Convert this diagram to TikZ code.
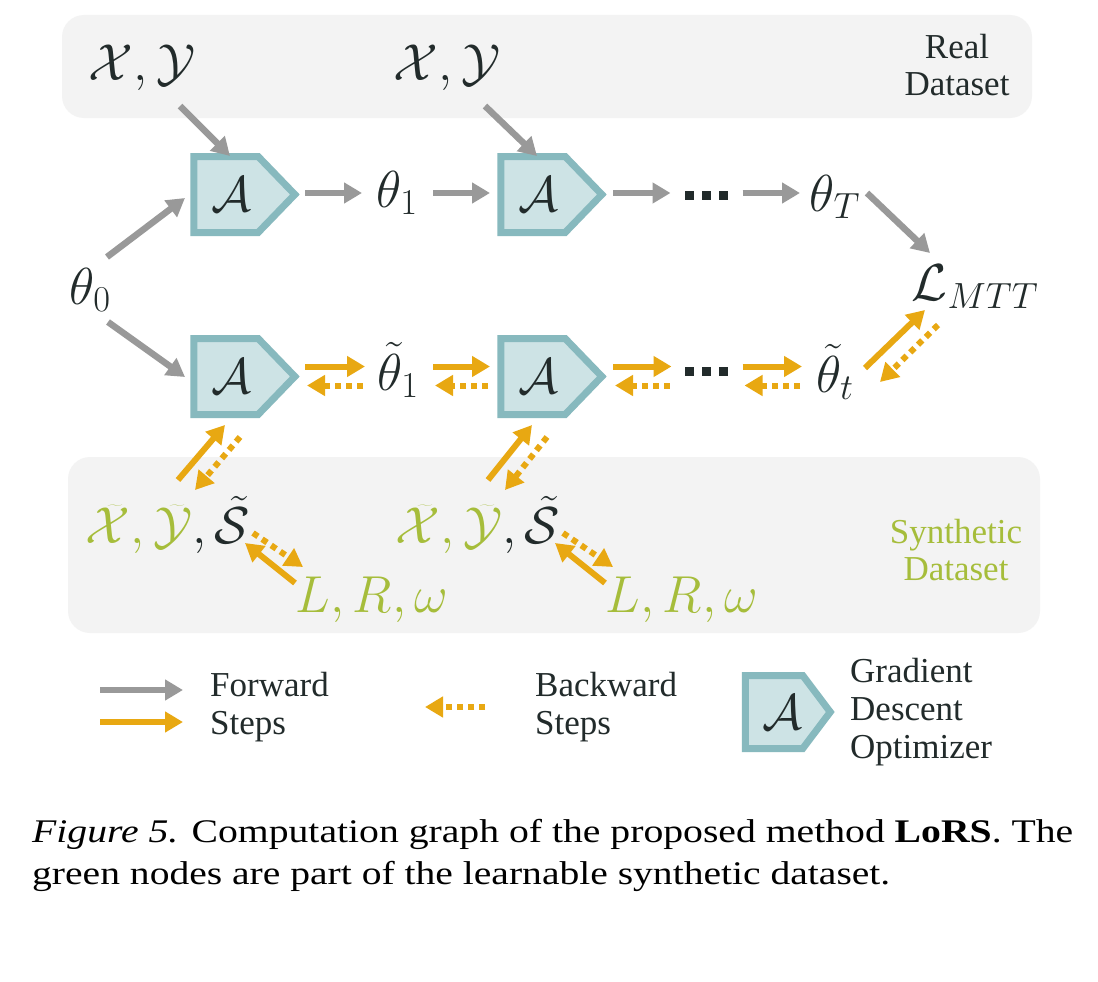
\RequirePackage{fix-cm}
\documentclass[tikz,border=0pt]{standalone}
\usepackage[no-math]{fontspec}
\usepackage{graphicx}
\setmainfont{Liberation Serif}
\usetikzlibrary{arrows.meta,shapes.symbols,calc}
\definecolor{ink}{HTML}{222B2B}
\definecolor{fwdgray}{HTML}{999999}
\definecolor{gold}{HTML}{E8A812}
\definecolor{leaf}{HTML}{A6BD3B}
\definecolor{optline}{HTML}{87B9BE}
\definecolor{optfill}{HTML}{CDE3E5}
\definecolor{panel}{HTML}{F3F3F3}
\tikzset{
  opt/.style={shape=signal,signal to=east,signal pointer angle=92,draw=optline,fill=optfill,
    line width=7pt,minimum width=101pt,minimum height=76pt,inner sep=0pt,text=ink,
    font=\fontsize{50}{50}\selectfont},
  var/.style={text=ink,inner sep=0pt,font=\fontsize{52}{52}\selectfont},
  dotrow/.style={text=ink,inner sep=0pt},
  lbl/.style={align=center,inner sep=0pt,font=\fontsize{35}{37}\selectfont},
  lgd/.style={text=ink,align=left,inner sep=0pt,anchor=west,font=\fontsize{35}{38}\selectfont},
  captext/.style={text=black,inner sep=0pt,anchor=base west,font=\fontsize{33}{40}\selectfont},
  fwd/.style={->,draw=fwdgray,line width=6.5pt},
  ofwd/.style={->,draw=gold,line width=6pt},
  obwd/.style={->,draw=gold,line width=6pt,dash pattern=on 6pt off 5pt}
}
\begin{document}
\begin{tikzpicture}[x=1pt,y=-1pt,>={Triangle[length=18pt,width=20pt]}]
\useasboundingbox (0,0) rectangle (1098,982);
\fill[white] (0,0) rectangle (1098,982);
\fill[panel,rounded corners=22pt] (62,15) rectangle (1032,118);
\fill[panel,rounded corners=22pt] (68,457) rectangle (1040,633);
\node[lbl,text=ink] (real) at (957,65) {Real\\Dataset};
\node[lbl,text=leaf] (synth) at (956,550) {Synthetic\\Dataset};
\coordinate (row1) at (0,193);
\coordinate (row2) at (0,376.5);
\node[var] (xy1) at (142,68) {$\mathcal{X},\mathcal{Y}$};
\node[var] (xy2) at (447,68) {$\mathcal{X},\mathcal{Y}$};
\node[opt] (a1) at (226,194.5) {\hspace{10pt}$\mathcal{A}$};
\node[opt] (a2) at (533,194.5) {\hspace{10pt}$\mathcal{A}$};
\node[opt] (a3) at (226,376.5) {\hspace{10pt}$\mathcal{A}$};
\node[opt] (a4) at (533,376.5) {\hspace{10pt}$\mathcal{A}$};
\node[var] (t0) at (90,290) {$\theta_0$};
\node[var] (t1) at (397,193) {$\theta_1$};
\node[dotrow] (d1) at (706.5,195) {\rule{9pt}{9pt}\hspace{8pt}\rule{9pt}{9pt}\hspace{8pt}\rule{9pt}{9pt}};
\node[var] (tT) at (835,197) {$\theta_T$};
\node[var] (loss) at (975,287) {$\mathcal{L}_{MTT}$};
\node[var] (tt1) at (398,370) {$\tilde{\theta}_1$};
\node[dotrow] (d2) at (706.5,371) {\rule{9pt}{9pt}\hspace{8pt}\rule{9pt}{9pt}\hspace{8pt}\rule{9pt}{9pt}};
\node[var] (ttt) at (835,372) {$\tilde{\theta}_t$};
\node[var] (syn1) at (168,525) {${\color{leaf}\widetilde{\mathcal{X}}}\mathpunct{\color{leaf},}{\color{leaf}\widetilde{\mathcal{Y}}},\tilde{\mathcal{S}}$};
\node[var] (syn2) at (478,525) {${\color{leaf}\widetilde{\mathcal{X}}}\mathpunct{\color{leaf},}{\color{leaf}\widetilde{\mathcal{Y}}},\tilde{\mathcal{S}}$};
\node[var,text=leaf] (lrw1) at (372,600) {$L,R,\omega$};
\node[var,text=leaf] (lrw2) at (682,600) {$L,R,\omega$};
\foreach \x/\a in {xy1/a1,xy2/a2}
  \draw[fwd] ($(\x)+(38,38)$) -- ($(\a)+(4,-38.5)$);
\draw[fwd] ($(t0)+(17,-33)$) -- ($(a1)+(-41,3.5)$);
\draw[fwd] ($(t0)+(18,32)$) -- ($(a3)+(-41,0.5)$);
\foreach \u/\v/\s/\e in {a1/t1/79/35,t1/a2/36/43,a2/d1/80/36,d1/tT/36/35}
  \draw[fwd] ($(\u |- row1)+(\s,0)$) -- ($(\v |- row1)+(-\e,0)$);
\foreach \u/\v/\s/\e in {a3/tt1/79/33,tt1/a4/35/43,a4/d2/80/35,d2/ttt/36/33}{
  \draw[ofwd] ($(\u |- row2)+(\s,-10)$) -- ($(\v |- row2)+(-\e,-10)$);
  \draw[obwd] ($(\v |- row2)+(-\e-2,9)$) -- ($(\u |- row2)+(\s+2,9)$);
}
\draw[fwd] ($(tT)+(32,-4)$) -- ($(loss)+(-45,-34)$);
\draw[ofwd] ($(ttt)+(30,-4)$) -- ($(loss)+(-50,23)$);
\draw[obwd] ($(loss)+(-37,38)$) -- ($(ttt)+(45,10)$);
\foreach \s/\a/\l in {syn1/a3/lrw1,syn2/a4/lrw2}{
  \draw[ofwd] ($(\s)+(10,-45)$) -- ($(\a)+(-1,48.5)$);
  \draw[obwd] ($(\a)+(14,60.5)$) -- ($(\s)+(27,-35)$);
  \draw[ofwd] ($(\l)+(-77,-17)$) -- ($(\s)+(77,18)$);
  \draw[obwd] ($(\s)+(85,8)$) -- ($(\l)+(-69,-33)$);
}
\coordinate (lgA) at (100,690);
\coordinate (lgB) at (183,690);
\coordinate (lgC) at (100,722);
\coordinate (lgD) at (183,722);
\coordinate (lgE) at (485,707);
\coordinate (lgF) at (425,707);
\draw[fwd] (lgA) -- (lgB);
\draw[ofwd] (lgC) -- (lgD);
\draw[obwd] (lgE) -- (lgF);
\node[lgd] (fwdtxt) at (210,707) {Forward\\Steps};
\node[lgd] (bwdtxt) at (535,707) {Backward\\Steps};
\node[opt,signal pointer angle=106,minimum width=85pt,minimum height=73pt] (a5) at (774,712) {\hspace{16pt}$\mathcal{A}$};
\node[lgd] (opttxt) at (850,712) {Gradient\\Descent\\Optimizer};
\node[captext] (cap1) at (32,842) {\resizebox{1041pt}{\height}{\textit{Figure 5.} Computation graph of the proposed method \textbf{LoRS}. The}};
\node[captext] (cap2) at (32,884) {\resizebox{858pt}{\height}{green nodes are part of the learnable synthetic dataset.}};
\end{tikzpicture}
\end{document}
